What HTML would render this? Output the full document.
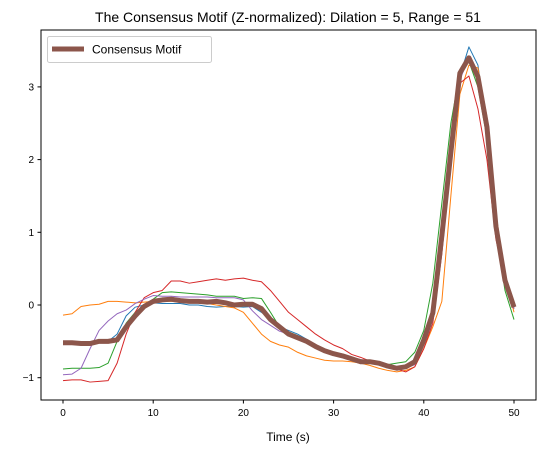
<!DOCTYPE html>
<html><head><meta charset="utf-8"><style>
body{margin:0;background:#fff;}
svg{display:block;font-family:"Liberation Sans","DejaVu Sans",sans-serif;}
</style></head><body>
<svg id="chart" width="558" height="453" viewBox="0 0 558 453">
<rect width="558" height="453" fill="#fff"/>
<text x="288" y="22" font-size="14" text-anchor="middle" fill="#000">The Consensus Motif (Z-normalized): Dilation = 5, Range = 51</text>
<g id="series"></g>
<g id="axes"></g>
<rect x="41" y="30" width="495" height="370" fill="none" stroke="#000" stroke-width="1"/>
<g>
<rect x="47.5" y="36.5" width="164" height="26" rx="2" fill="#fff" fill-opacity="0.8" stroke="#ccc"/>
<line x1="52" y1="49" x2="84" y2="49" stroke="#8c564b" stroke-width="5"/>
<text x="92" y="53.5" font-size="12" fill="#000">Consensus Motif</text>
</g>
<text x="288" y="441" font-size="12" text-anchor="middle" fill="#000">Time (s)</text>
</svg>
<script>
const blue=[-0.52,-0.52,-0.53,-0.53,-0.5,-0.5,-0.4,-0.15,-0.03,0.0,0.03,0.02,0.02,0.02,0.0,0.0,-0.02,-0.03,-0.02,-0.02,-0.03,-0.02,-0.1,-0.2,-0.3,-0.35,-0.4,-0.47,-0.55,-0.62,-0.67,-0.7,-0.72,-0.76,-0.78,-0.8,-0.83,-0.86,-0.84,-0.75,-0.55,-0.2,0.85,2.05,3.15,3.55,3.3,2.4,1.1,0.35,-0.05];
const orange=[-0.14,-0.12,-0.02,0.0,0.01,0.05,0.05,0.04,0.03,0.04,0.05,0.05,0.05,0.04,0.03,0.03,0.02,0.0,-0.02,-0.04,-0.1,-0.25,-0.4,-0.5,-0.55,-0.58,-0.65,-0.7,-0.73,-0.76,-0.77,-0.77,-0.78,-0.8,-0.83,-0.87,-0.9,-0.92,-0.9,-0.85,-0.6,-0.3,0.05,1.5,2.9,3.3,3.26,2.59,1.26,0.4,-0.1];
const green=[-0.88,-0.87,-0.87,-0.87,-0.86,-0.8,-0.5,-0.25,-0.1,0.0,0.08,0.17,0.18,0.17,0.16,0.15,0.14,0.12,0.12,0.12,0.09,0.1,0.09,-0.1,-0.3,-0.37,-0.42,-0.5,-0.55,-0.62,-0.67,-0.7,-0.72,-0.76,-0.78,-0.82,-0.82,-0.8,-0.78,-0.65,-0.35,0.3,1.4,2.5,3.2,3.35,3.0,2.3,1.0,0.2,-0.2];
const red=[-1.04,-1.03,-1.03,-1.06,-1.05,-1.04,-0.8,-0.4,-0.1,0.1,0.17,0.2,0.33,0.33,0.3,0.32,0.34,0.36,0.34,0.36,0.37,0.34,0.32,0.2,0.05,-0.1,-0.2,-0.3,-0.4,-0.48,-0.55,-0.6,-0.68,-0.72,-0.77,-0.8,-0.85,-0.88,-0.92,-0.85,-0.6,-0.25,0.7,2.0,3.05,3.15,2.7,2.0,0.9,0.35,-0.05];
const purple=[-0.96,-0.95,-0.87,-0.6,-0.35,-0.22,-0.12,-0.07,0.02,0.08,0.13,0.12,0.12,0.11,0.11,0.11,0.11,0.1,0.1,0.1,0.07,-0.08,-0.2,-0.28,-0.36,-0.4,-0.45,-0.52,-0.58,-0.63,-0.67,-0.7,-0.72,-0.75,-0.78,-0.8,-0.82,-0.85,-0.87,-0.82,-0.55,-0.2,0.8,2.0,3.1,3.4,3.15,2.45,1.08,0.33,-0.05];
const consensus=[-0.52,-0.52,-0.53,-0.53,-0.5,-0.5,-0.48,-0.3,-0.15,-0.02,0.05,0.07,0.08,0.06,0.05,0.05,0.04,0.05,0.03,0.0,0.01,0.01,-0.05,-0.2,-0.3,-0.4,-0.45,-0.5,-0.57,-0.63,-0.67,-0.7,-0.74,-0.78,-0.78,-0.8,-0.84,-0.87,-0.85,-0.78,-0.48,-0.11,0.95,2.1,3.19,3.4,3.14,2.45,1.08,0.34,-0.03];
const xTicks=[0,10,20,30,40,50];
const yTicks=[-1,0,1,2,3];

const NS="http://www.w3.org/2000/svg";
function xs(t){return 63+t*9.02;}
function ys(v){return 305-v*72.7;}
const sg=document.getElementById('series');
const ag=document.getElementById('axes');
function line(vals,color,w,name){
  const p=document.createElementNS(NS,'polyline');
  p.setAttribute('points',vals.map((v,i)=>xs(i)+','+ys(v)).join(' '));
  p.setAttribute('fill','none');p.setAttribute('stroke',color);p.setAttribute('stroke-width',w);
  p.setAttribute('stroke-linejoin','round');
  
  
  sg.appendChild(p);
}
line(blue,'#1f77b4',1,'series-blue');
line(orange,'#ff7f0e',1,'series-orange');
line(green,'#2ca02c',1,'series-green');
line(red,'#d62728',1,'series-red');
line(purple,'#9467bd',1,'series-purple');
line(consensus,'#8c564b',5,'consensus-motif-line');
function txt(x,y,s,anchor){
  const t=document.createElementNS(NS,'text');
  t.setAttribute('x',x);t.setAttribute('y',y);t.setAttribute('font-size','10');
  t.setAttribute('text-anchor',anchor);t.textContent=s;return t;
}
xTicks.forEach(v=>{
  const l=document.createElementNS(NS,'line');
  l.setAttribute('x1',xs(v));l.setAttribute('x2',xs(v));l.setAttribute('y1',400);l.setAttribute('y2',403.5);l.setAttribute('stroke','#000');
  
  
  ag.appendChild(l);
  const t=txt(xs(v),416,String(v),'middle');
  
  
  ag.appendChild(t);
});
yTicks.forEach(v=>{
  const l=document.createElementNS(NS,'line');
  l.setAttribute('x1',37.5);l.setAttribute('x2',41);l.setAttribute('y1',ys(v));l.setAttribute('y2',ys(v));l.setAttribute('stroke','#000');
  
  
  ag.appendChild(l);
  const t=txt(34,ys(v)+3.5,v<0?'\u2212'+Math.abs(v):String(v),'end');
  
  
  ag.appendChild(t);
});
</script>
</body></html>
